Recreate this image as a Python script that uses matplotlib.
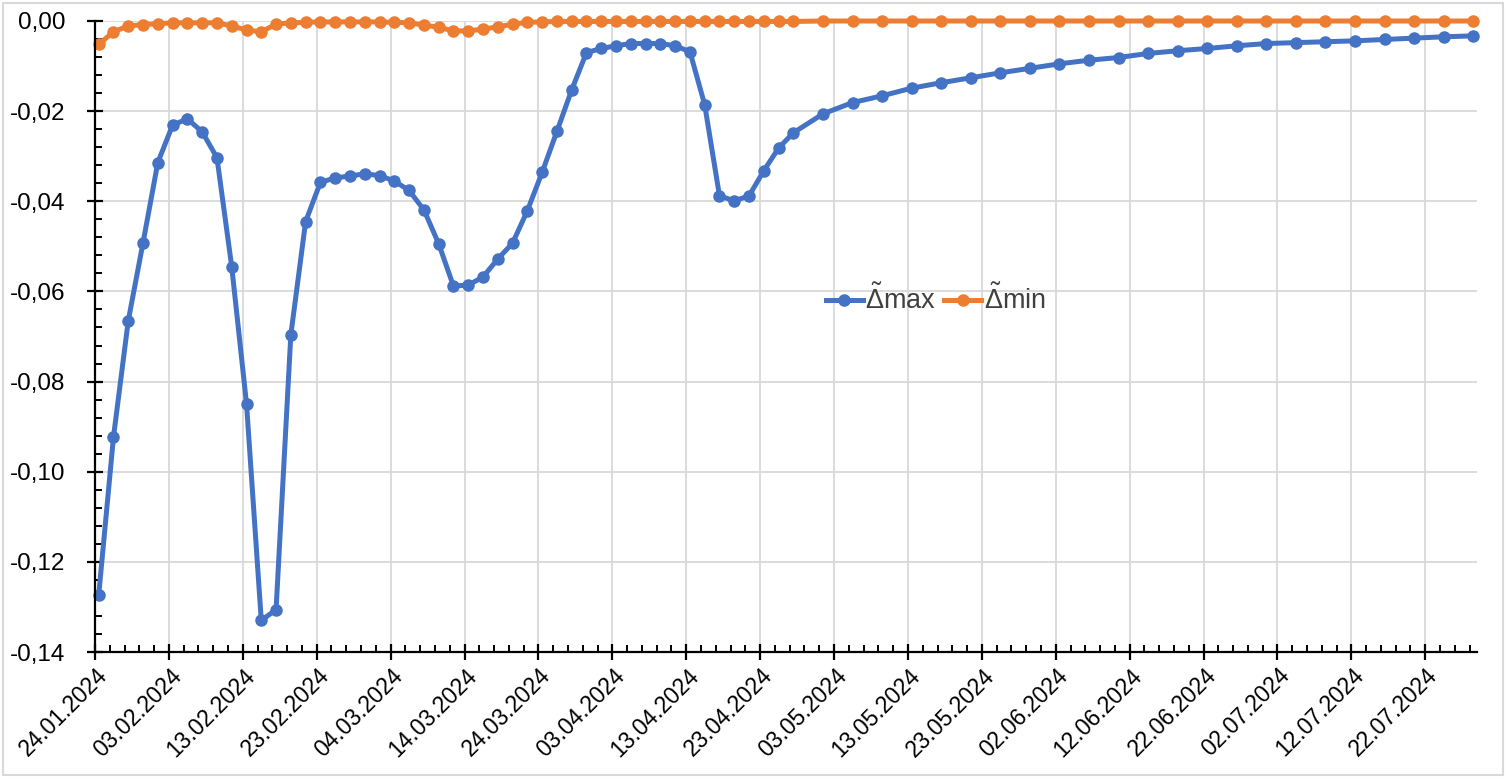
import matplotlib
matplotlib.use("Agg")
import matplotlib.pyplot as plt
import matplotlib.dates as mdates
import matplotlib.ticker as mticker
import matplotlib.transforms as mtransforms
from matplotlib.patches import Rectangle
import pandas as pd

BLUE = "#4472C4"
ORANGE = "#ED7D31"
GRID = "#D9D9D9"

plt.rcParams.update({
    "font.family": ["Liberation Sans", "DejaVu Sans"],
    "mathtext.fontset": "custom",
    "mathtext.rm": "Liberation Sans",
    "mathtext.it": "Liberation Sans:italic",
})

# observation dates: every 2 days until 27.04, then every 4 days
dates_a = pd.date_range("2024-01-24", "2024-04-27", freq="2D")
dates_b = pd.date_range("2024-05-01", "2024-07-28", freq="4D")

d_max_a = [-0.1274, -0.0923, -0.0665, -0.0492, -0.0314, -0.0231, -0.0217, -0.0246,
           -0.0303, -0.0545, -0.0849, -0.1330, -0.1306, -0.0696, -0.0445, -0.0358,
           -0.0348, -0.0344, -0.0339, -0.0343, -0.0355, -0.0376, -0.0419, -0.0494,
           -0.0588, -0.0586, -0.0568, -0.0528, -0.0493, -0.0421, -0.0336, -0.0245,
           -0.0153, -0.0070, -0.0061, -0.0055, -0.0050, -0.0050, -0.0050, -0.0055,
           -0.0068, -0.0186, -0.0388, -0.0399, -0.0388, -0.0332, -0.0282, -0.0248]
d_max_b = [-0.0206, -0.0181, -0.0166, -0.0149, -0.0137, -0.0126, -0.0115, -0.0105,
           -0.0095, -0.0087, -0.0081, -0.0072, -0.0066, -0.0061, -0.0055, -0.0050,
           -0.0048, -0.0046, -0.0044, -0.0041, -0.0038, -0.0035, -0.0033]

d_min_a = [-0.0052, -0.0024, -0.0011, -0.0008, -0.0006, -0.0004, -0.0004, -0.0004,
           -0.0004, -0.0011, -0.0020, -0.0024, -0.0007, -0.0004, -0.0003, -0.0002,
           -0.0002, -0.0002, -0.0002, -0.0002, -0.0003, -0.0004, -0.0009, -0.0014,
           -0.0022, -0.0022, -0.0018, -0.0013, -0.0007, -0.0003, -0.0002, -0.0001,
           -0.0001, -0.0001, -0.0001, -0.0001, -0.0001, -0.0001, -0.0001, -0.0001,
           -0.0001, -0.0001, -0.0001, -0.0001, -0.0001, -0.0001, -0.0001, -0.0001]
d_min_b = [0.0] * 23

dates = dates_a.append(dates_b)
d_max = d_max_a + d_max_b
d_min = d_min_a + d_min_b

# points sit half a day to the right of the date ticks in the original
x = dates + pd.Timedelta(hours=12)

fig = plt.figure(figsize=(15.07, 7.80), dpi=100)
ax = fig.add_axes([95 / 1507, 1 - 652 / 780, (1477 - 95) / 1507, (652 - 21) / 780])

ax.plot(x, d_max, color=BLUE, lw=3.6, marker="o", ms=8, label=r"$\tilde{\Delta}$max",
        zorder=3, clip_on=False)
ax.plot(x, d_min, color=ORANGE, lw=3.6, marker="o", ms=8, label=r"$\tilde{\Delta}$min",
        zorder=3, clip_on=False)

ax.set_xlim(pd.Timestamp("2024-01-24"), pd.Timestamp("2024-07-29"))
ax.set_ylim(-0.14, 0.0)

major_days = pd.date_range("2024-01-24", "2024-07-29", freq="10D")
minor_days = pd.date_range("2024-01-24", "2024-07-29", freq="2D")
ax.xaxis.set_major_locator(mticker.FixedLocator(mdates.date2num(major_days)))
ax.xaxis.set_minor_locator(mticker.FixedLocator(mdates.date2num(minor_days)))
ax.xaxis.set_major_formatter(mdates.DateFormatter("%d.%m.%Y"))

ax.yaxis.set_major_locator(mticker.MultipleLocator(0.02))
ax.yaxis.set_minor_locator(mticker.MultipleLocator(0.004))
ax.yaxis.set_major_formatter(mticker.FuncFormatter(
    lambda v, p: f"{v:.2f}".replace(".", ",").replace("-0,00", "0,00")))

ax.grid(True, which="major", color=GRID, lw=1.3, zorder=0)
ax.set_axisbelow(True)
for s in ["top", "right"]:
    ax.spines[s].set_visible(False)
for s in ["left", "bottom"]:
    ax.spines[s].set_linewidth(1.6)
    ax.spines[s].set_zorder(4)

ax.tick_params(which="major", direction="inout", length=11, width=1.6, colors="black")
ax.tick_params(which="minor", direction="in", length=5, width=1.4)
ax.tick_params(axis="y", which="major", pad=16, labelsize=17.5)
ax.tick_params(axis="x", which="major", pad=9, labelsize=16.5)

offset = mtransforms.ScaledTranslation(9 / 100, 0, fig.dpi_scale_trans)
for lab in ax.get_xticklabels():
    lab.set_rotation(45)
    lab.set_ha("right")
    lab.set_va("center")
    lab.set_rotation_mode("anchor")
    lab.set_transform(lab.get_transform() + offset)

leg = ax.legend(loc="center left", bbox_to_anchor=(826 / 1507, 1 - 300 / 780),
                bbox_transform=fig.transFigure, ncol=2, frameon=False, fontsize=19.5,
                handlelength=1.35, handletextpad=0.1, columnspacing=0.3,
                borderpad=0, borderaxespad=0, labelcolor="#404040")

fig.patches.append(Rectangle((3 / 1507, 5 / 780), 1500 / 1507, 772 / 780,
                             transform=fig.transFigure, fill=False, ec=GRID, lw=1.5))

fig.savefig("out.png", dpi=100)
